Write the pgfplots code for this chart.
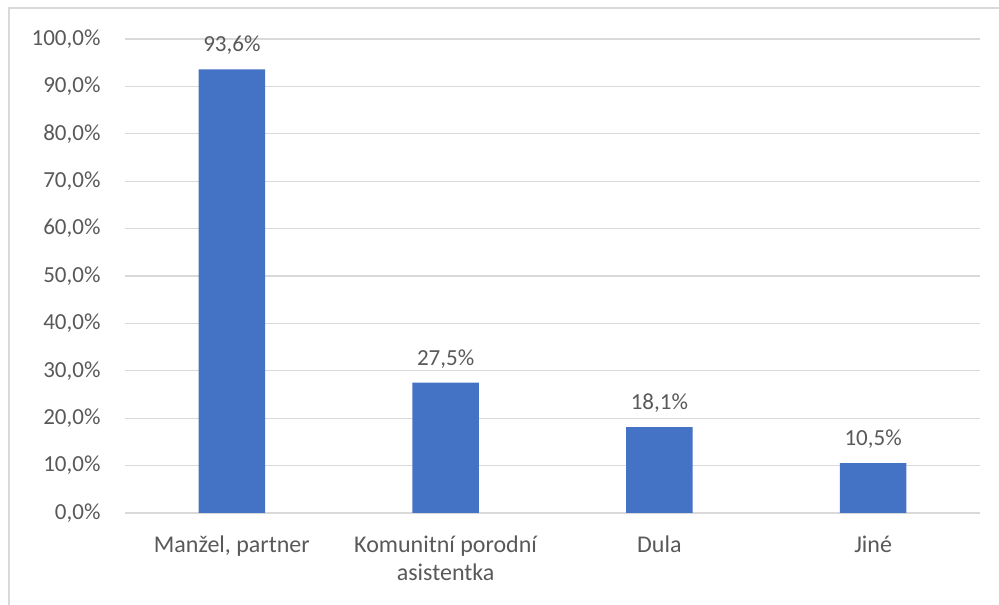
\documentclass[border=0pt]{standalone}
\usepackage{pgfplots}
\pgfplotsset{compat=1.18}
\usepackage{fontspec}
\setmainfont{Carlito}
\definecolor{barblue}{HTML}{4472C4}
\definecolor{gridgray}{HTML}{D9D9D9}
\definecolor{txt}{HTML}{595959}
\begin{document}
\begin{tikzpicture}[x=1pt,y=1pt]
\path[use as bounding box] (0,0) rectangle (999,605);
\draw[gridgray, line width=1.5pt] (9,0) -- (9,597) -- (999,597);
\begin{axis}[
  at={(125pt,92pt)}, anchor=south west,
  scale only axis, width=855pt, height=474pt,
  xmin=-0.5, xmax=3.5, ymin=0, ymax=100,
  axis line style={draw=none},
  tick style={draw=none},
  ymajorgrids, major grid style={gridgray, line width=1.2pt},
  ytick={0,10,...,100},
  xtick={0,1,2,3},
  xticklabels={{Manžel, partner},{Komunitní porodní\\asistentka},{Dula},{Jiné}},
  /pgf/number format/assume math mode=true,
  yticklabel={\pgfmathprintnumber[fixed,fixed zerofill,precision=1,use comma]{\tick}\%},
  yticklabel style={txt, font=\fontsize{23}{27}\selectfont, xshift=-21pt},
  xticklabel style={txt, font=\fontsize{24}{28}\selectfont, align=center, yshift=-15pt},
  ybar, bar width=66.7pt,
  nodes near coords={\pgfmathprintnumber[fixed,fixed zerofill,precision=1,use comma]{\pgfplotspointmeta}\%},
  nodes near coords style={txt, font=\fontsize{23}{27}\selectfont, yshift=11pt},
]
\addplot[fill=barblue, draw=none] coordinates {(0,93.6) (1,27.5) (2,18.1) (3,10.5)};
\end{axis}
\end{tikzpicture}
\end{document}
